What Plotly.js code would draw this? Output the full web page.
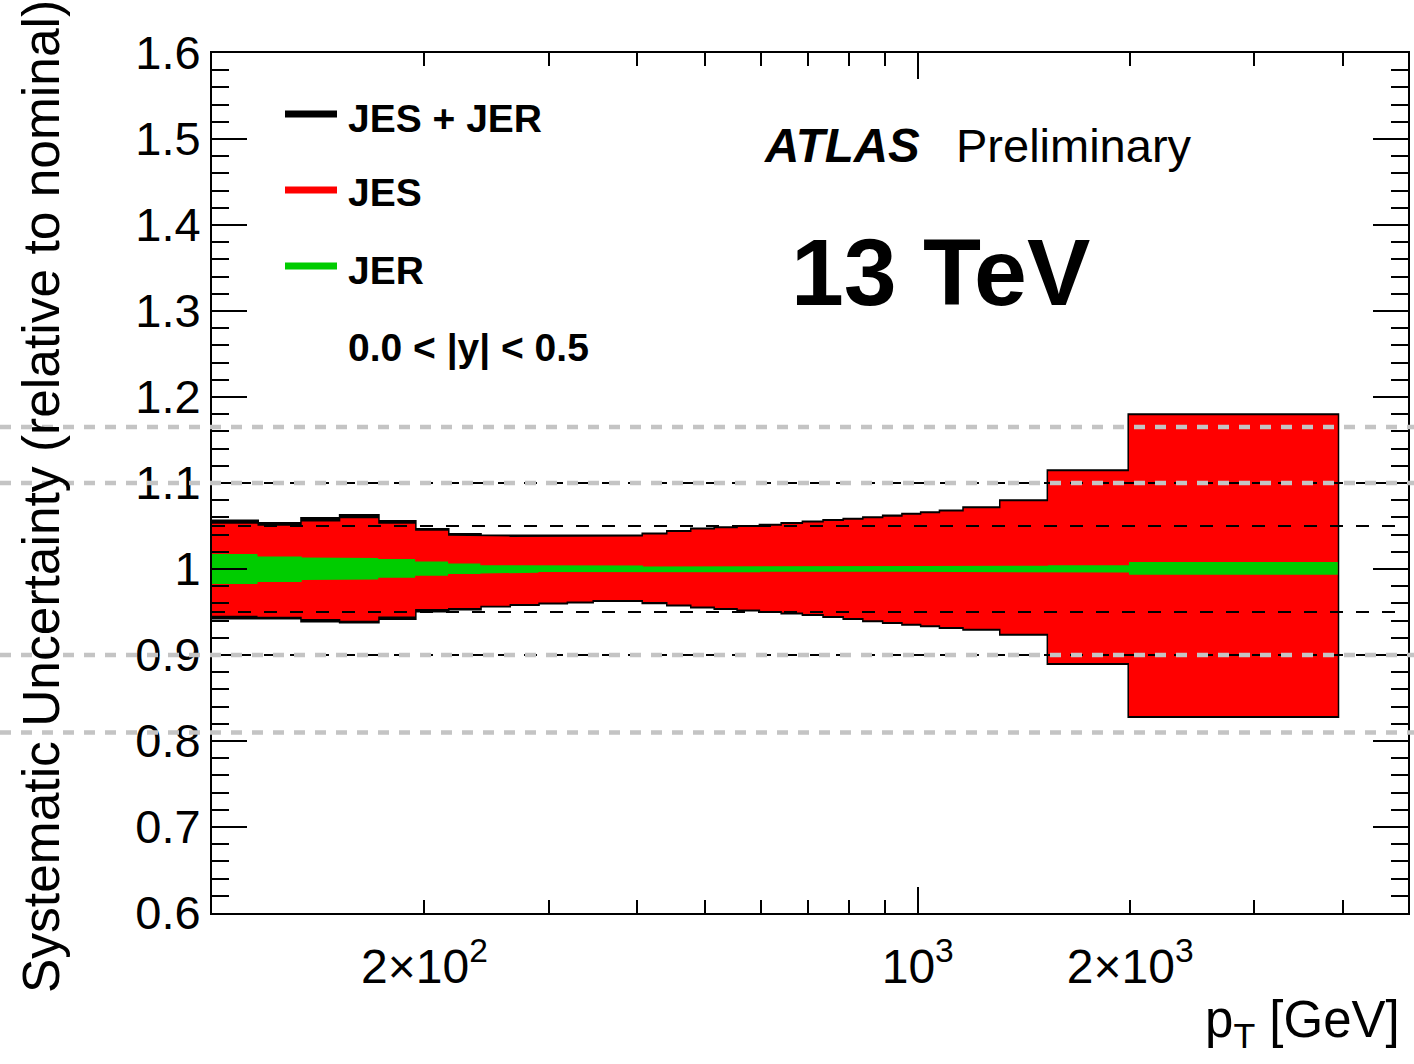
<!DOCTYPE html>
<html>
<head>
<meta charset="utf-8">
<script src="https://cdn.plot.ly/plotly-3.0.1.min.js"></script>
<style>
  html, body { margin: 0; padding: 0; background: #ffffff; }
  #chart { width: 1414px; height: 1064px; }
</style>
</head>
<body>
<div id="chart"></div>
<script>
// Jet pT bin edges [GeV]
const binEdges = [100, 116, 134, 152, 172, 194, 216, 240, 264, 290, 318, 346, 376, 408, 442, 478,
                  516, 556, 598, 642, 688, 736, 786, 838, 894, 952, 1012, 1076, 1162, 1310, 1530, 1992, 3937];

// Total (JES + JER) variation, up and down, relative to nominal
const totalUp = [1.0557, 1.0528, 1.0586, 1.0621, 1.0551, 1.0458, 1.0400, 1.0383, 1.0377, 1.0383, 1.0383,
                 1.0383, 1.0383, 1.0406, 1.0435, 1.0464, 1.0481, 1.0495, 1.0510, 1.0528, 1.0547, 1.0563,
                 1.0578, 1.0597, 1.0615, 1.0636, 1.0653, 1.0675, 1.0712, 1.0795, 1.1143, 1.1794];
const totalDown = [0.9429, 0.9429, 0.9394, 0.9383, 0.9424, 0.9511, 0.9534, 0.9569, 0.9586, 0.9604, 0.9615,
                   0.9633, 0.9633, 0.9609, 0.9580, 0.9557, 0.9540, 0.9522, 0.9507, 0.9487, 0.9470, 0.9447,
                   0.9424, 0.9397, 0.9378, 0.9357, 0.9339, 0.9320, 0.9300, 0.9241, 0.8901, 0.8285];

// Jet energy scale variation
const jesUp = [1.0525, 1.0502, 1.0553, 1.0591, 1.0527, 1.0444, 1.0386, 1.0378, 1.0371, 1.0377, 1.0377,
               1.0377, 1.0377, 1.0400, 1.0429, 1.0458, 1.0475, 1.0489, 1.0504, 1.0522, 1.0541, 1.0557,
               1.0572, 1.0591, 1.0609, 1.0630, 1.0647, 1.0669, 1.0706, 1.0789, 1.1137, 1.1788];
const jesDown = [0.9456, 0.9445, 0.9418, 0.9398, 0.9447, 0.9534, 0.9546, 0.9573, 0.9592, 0.9610, 0.9621,
                 0.9639, 0.9639, 0.9615, 0.9586, 0.9563, 0.9546, 0.9528, 0.9513, 0.9493, 0.9476, 0.9453,
                 0.9430, 0.9403, 0.9384, 0.9363, 0.9345, 0.9326, 0.9306, 0.9247, 0.8907, 0.8291];

// Jet energy resolution variation
const jerUp = [1.0173, 1.0146, 1.0135, 1.0127, 1.0115, 1.0088, 1.0065, 1.0045, 1.0040, 1.0037, 1.0038,
               1.0040, 1.0042, 1.0030, 1.0030, 1.0027, 1.0027, 1.0027, 1.0035, 1.0035, 1.0035, 1.0035,
               1.0032, 1.0032, 1.0035, 1.0035, 1.0036, 1.0036, 1.0037, 1.0037, 1.0045, 1.0080];
const jerDown = [0.9825, 0.9848, 0.9871, 0.9879, 0.9898, 0.9921, 0.9941, 0.9949, 0.9955, 0.9965, 0.9968,
                 0.9968, 0.9968, 0.9966, 0.9966, 0.9962, 0.9962, 0.9962, 0.9967, 0.9967, 0.9967, 0.9967,
                 0.9972, 0.9972, 0.9969, 0.9967, 0.9967, 0.9967, 0.9967, 0.9967, 0.9960, 0.9933];

// Horizontal guide lines
const guideLevels = [0.90, 0.95, 1.05, 1.10];
const highlightLevels = [0.81, 0.90, 1.10, 1.165];

// Axis settings
const xRangeGeV = [100, 4951];
const yRange = [0.6, 1.6];
const xLabelVals = [200, 1000, 2000];
const xLabelText = ['2\u00d710<sup>2</sup>', '10<sup>3</sup>', '2\u00d710<sup>3</sup>'];
const xMinorVals = [300, 400, 500, 600, 700, 800, 900, 3000, 4000];

// Legend entries
const legendNames = ['JES + JER', 'JES', 'JER'];
const legendColors = ['#000000', '#ff0000', '#00cc00'];

const FONT = 'Liberation Sans, Arial, Helvetica, sans-serif';

// Closed step-outline polygon between an upper and a lower histogram
function stepBand(edges, up, down) {
  const xs = [], ys = [];
  for (let i = 0; i < up.length; i++) {
    xs.push(edges[i], edges[i + 1]);
    ys.push(up[i], up[i]);
  }
  for (let i = down.length - 1; i >= 0; i--) {
    xs.push(edges[i + 1], edges[i]);
    ys.push(down[i], down[i]);
  }
  xs.push(xs[0]);
  ys.push(ys[0]);
  return { x: xs, y: ys };
}

const totBand = stepBand(binEdges, totalUp, totalDown);
const jesBand = stepBand(binEdges, jesUp, jesDown);
const jerBand = stepBand(binEdges, jerUp, jerDown);

const traces = [
  { type: 'scatter', mode: 'lines', name: legendNames[0], x: totBand.x, y: totBand.y,
    fill: 'toself', fillcolor: '#000000', line: { color: '#000000', width: 3 }, hoverinfo: 'skip' },
  { type: 'scatter', mode: 'lines', name: legendNames[1], x: jesBand.x, y: jesBand.y,
    fill: 'toself', fillcolor: '#ff0000', line: { width: 0, color: '#ff0000' }, hoverinfo: 'skip' },
  { type: 'scatter', mode: 'lines', name: legendNames[2], x: jerBand.x, y: jerBand.y,
    fill: 'toself', fillcolor: '#00cc00', line: { width: 0, color: '#00cc00' }, hoverinfo: 'skip' },
  // carries the long decade tick on the overlaid axis
  { type: 'scatter', mode: 'lines', x: [], y: [], xaxis: 'x2', yaxis: 'y', showlegend: false, hoverinfo: 'skip' }
];

// Plot area in pixels, used to place decorations in paper coordinates
const M = { l: 212, r: 6, t: 53, b: 151 };
const W = 1414, H = 1064;
const PW = W - M.l - M.r, PH = H - M.t - M.b;
const px = v => (v - M.l) / PW;
const py = v => (H - M.b - v) / PH;
const yPaper = v => (v - yRange[0]) / (yRange[1] - yRange[0]);

const shapes = [];
guideLevels.forEach(v => shapes.push({
  type: 'line', xref: 'paper', yref: 'paper', x0: 0, x1: px(1400), y0: yPaper(v), y1: yPaper(v),
  layer: 'above', line: { color: '#000000', width: 2, dash: '13px,13px' }
}));
highlightLevels.forEach(v => shapes.push({
  type: 'line', xref: 'paper', yref: 'paper', x0: px(0), x1: px(1414), y0: yPaper(v), y1: yPaper(v),
  layer: 'above', line: { color: '#c4c4c4', width: 4.5, dash: '11px,10px' }
}));

// Legend samples
const legendRowsPx = [114, 190, 266];
legendNames.forEach((n, i) => shapes.push({
  type: 'line', xref: 'paper', yref: 'paper', x0: px(285), x1: px(337),
  y0: py(legendRowsPx[i]), y1: py(legendRowsPx[i]), line: { color: legendColors[i], width: 7 }
}));

const legendTextPx = [118, 193, 270];
const annotations = [];
legendNames.forEach((n, i) => annotations.push({
  xref: 'paper', yref: 'paper', x: px(346), y: py(legendTextPx[i]), xanchor: 'left', yanchor: 'middle',
  text: '<b>' + n + '</b>', showarrow: false, font: { family: FONT, size: 39, color: '#000000' }
}));
annotations.push({
  xref: 'paper', yref: 'paper', x: px(346), y: py(348), xanchor: 'left', yanchor: 'middle',
  text: '<b>0.0 < |y| < 0.5</b>', showarrow: false, font: { family: FONT, size: 39, color: '#000000' }
});
annotations.push({
  xref: 'paper', yref: 'paper', x: px(762), y: py(145), xanchor: 'left', yanchor: 'middle',
  text: '<b><i>ATLAS</i></b>', showarrow: false, font: { family: FONT, size: 47.5, color: '#000000' }
});
annotations.push({
  xref: 'paper', yref: 'paper', x: px(954), y: py(145), xanchor: 'left', yanchor: 'middle',
  text: 'Preliminary', showarrow: false, font: { family: FONT, size: 47, color: '#000000' }
});
annotations.push({
  xref: 'paper', yref: 'paper', x: px(789), y: py(272), xanchor: 'left', yanchor: 'middle',
  text: '<b>13 TeV</b>', showarrow: false, font: { family: FONT, size: 95, color: '#000000' }
});
// Axis titles
annotations.push({
  xref: 'paper', yref: 'paper', x: px(1402), y: py(1024), xanchor: 'right', yanchor: 'middle',
  text: 'p<sub>T</sub> [GeV]', showarrow: false, font: { family: FONT, size: 51, color: '#000000' }
});
annotations.push({
  xref: 'paper', yref: 'paper', x: px(41), y: py(497), xanchor: 'center', yanchor: 'middle',
  textangle: -90, text: 'Systematic Uncertainty (relative to nominal)', showarrow: false,
  font: { family: FONT, size: 51.5, color: '#000000' }
});

const logRange = [Math.log10(xRangeGeV[0]), Math.log10(xRangeGeV[1])];

const layout = {
  width: W, height: H,
  margin: { l: M.l, r: M.r, t: M.t, b: M.b, pad: 0 },
  paper_bgcolor: '#ffffff', plot_bgcolor: '#ffffff',
  showlegend: false,
  font: { family: FONT, color: '#000000' },
  xaxis: {
    type: 'log', range: logRange,
    tickmode: 'array', tickvals: xLabelVals, ticktext: xLabelText,
    ticks: 'inside', ticklen: 13, tickwidth: 2, tickcolor: '#000000',
    showline: true, linewidth: 2, linecolor: '#000000', mirror: 'ticks',
    showgrid: false, zeroline: false, ticklabelstandoff: 10,
    tickfont: { family: FONT, size: 48, color: '#000000' },
    minor: { tickmode: 'array', tickvals: xMinorVals, ticks: 'inside', ticklen: 13,
             tickwidth: 2, tickcolor: '#000000', showgrid: false }
  },
  xaxis2: {
    type: 'log', range: logRange, overlaying: 'x', anchor: 'y', side: 'bottom',
    tickmode: 'array', tickvals: [1000], ticks: 'inside', ticklen: 26, tickwidth: 2, tickcolor: '#000000',
    showticklabels: false, showline: false, mirror: 'ticks', showgrid: false, zeroline: false
  },
  yaxis: {
    range: yRange, tickmode: 'linear', tick0: 0.6, dtick: 0.1,
    ticks: 'inside', ticklen: 35, tickwidth: 2, tickcolor: '#000000',
    showline: true, linewidth: 2, linecolor: '#000000', mirror: 'ticks',
    showgrid: false, zeroline: false,
    tickfont: { family: FONT, size: 47, color: '#000000' },
    minor: { dtick: 0.02, ticks: 'inside', ticklen: 17, tickwidth: 2, tickcolor: '#000000', showgrid: false }
  },
  shapes: shapes,
  annotations: annotations
};

Plotly.newPlot('chart', traces, layout, { staticPlot: true, displayModeBar: false });
</script>
</body>
</html>
